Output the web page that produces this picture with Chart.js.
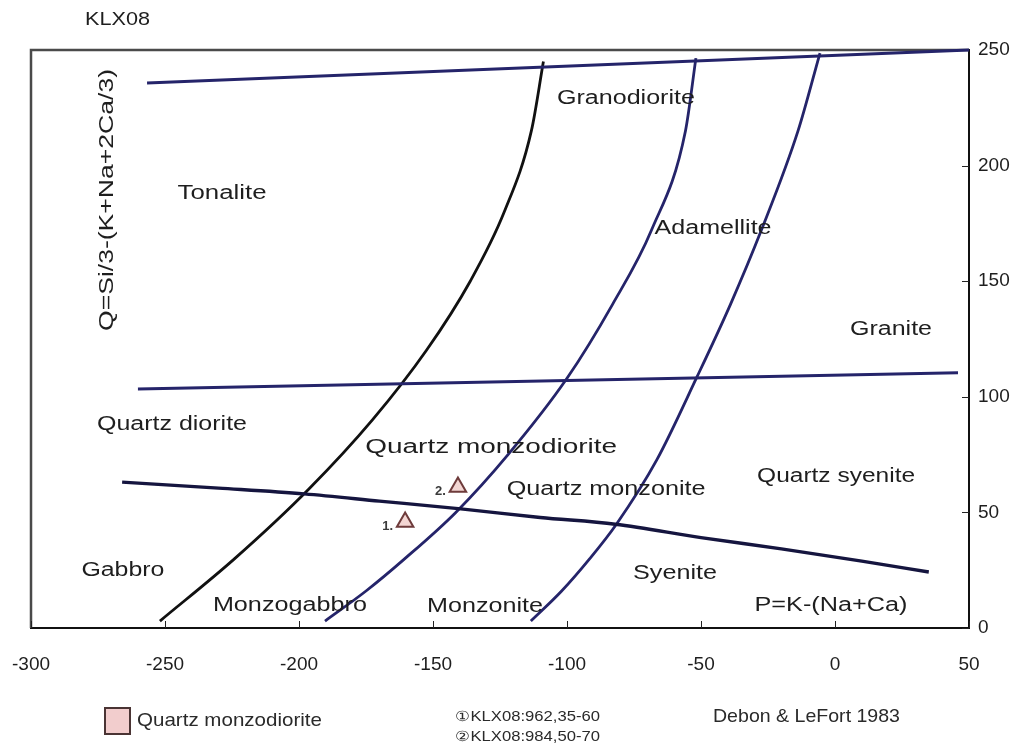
<!DOCTYPE html>
<html>
<head>
<meta charset="utf-8">
<script src="https://cdn.jsdelivr.net/npm/chart.js@4.4.1/dist/chart.umd.min.js"></script>
<style>
  html, body { margin: 0; padding: 0; background: #ffffff; }
  canvas { display: block; }
</style>
</head>
<body>
<canvas id="pq" width="1029" height="749"></canvas>
<script>
// Debon & Le Fort (1983) P-Q classification diagram, borehole KLX08

// axis ticks
const pTicks = [-300, -250, -200, -150, -100, -50, 0, 50];
const qTicks = [0, 50, 100, 150, 200, 250];

// field boundaries as [P, Q] pairs
const upperQBoundary  = [[-256.7, 235.7], [50, 250]];
const middleQBoundary = [[-260.1, 103.4], [45.9, 110.4]];
const lowerQBoundary  = [[-266, 63.1], [-230, 60.5], [-198, 58.0], [-170, 54.9], [-139.6, 51.5], [-110, 47.8],
                         [-82, 44.9], [-50, 39.1], [-20, 34.2], [10, 28.9], [35, 24.2]];
const tonaliteBoundary = [[-251.9, 3], [-224.0, 30], [-196.4, 60], [-172.6, 90], [-152.5, 120], [-136.1, 150],
                          [-123.4, 180], [-113.3, 215], [-108.8, 245]];
const granodioriteBoundary = [[-190.3, 3], [-175.0, 16], [-160.5, 30], [-141.5, 50], [-122.0, 75], [-100.0, 108],
                              [-83.0, 140], [-68.5, 172], [-55.8, 215], [-51.9, 246.5]];
const adamelliteBoundary = [[-113.5, 3], [-102.0, 16], [-91.5, 30], [-81.5, 45], [-66.5, 72.7], [-51.5, 108.6],
                            [-39.0, 140], [-27.5, 172], [-13.8, 215], [-5.6, 248.7]];

// KLX08 samples
const sampleTags = ['1.', '2.'];
const sampleP = [-160.4, -140.7];
const sampleQ = [45.8, 61.0];
const sampleNotes = ['\u2460KLX08:962,35-60', '\u2461KLX08:984,50-70'];

// rock field names
const fieldNames = ['Granodiorite', 'Tonalite', 'Adamellite', 'Granite', 'Quartz diorite', 'Quartz monzodiorite',
                    'Quartz syenite', 'Quartz monzonite', 'Gabbro', 'Syenite', 'Monzogabbro', 'Monzonite', 'P=K-(Na+Ca)'];

// where each field name sits (P, Q) and how wide it is set
const fieldPlacement = [
  { p: -78.0, q: 229.2, w: 138 }, { p: -228.7, q: 188.1, w: 89 }, { p: -45.5, q: 173.0, w: 117 },
  { p: 20.9, q: 128.9, w: 82 }, { p: -247.4, q: 88.2, w: 150 }, { p: -128.3, q: 78.2, w: 252 },
  { p: 0.4, q: 65.7, w: 158 }, { p: -85.4, q: 59.7, w: 199 }, { p: -265.7, q: 24.7, w: 83 },
  { p: -59.7, q: 23.4, w: 84 }, { p: -203.4, q: 9.9, w: 154 }, { p: -130.6, q: 9.5, w: 116 },
  { p: -1.5, q: 9.9, w: 153 }
];

const NAVY = '#25246a';
const INK = '#1e1e1e';
const FONT = "'Liberation Sans', Arial, sans-serif";

const toXY = pairs => pairs.map(([x, y]) => ({ x, y }));

function lineSet(label, pairs, color, width, smooth) {
  return {
    label, data: toXY(pairs), showLine: true, borderColor: color, borderWidth: width,
    pointRadius: 0, pointHoverRadius: 0, fill: false, clip: false,
    tension: smooth ? 0.4 : 0, cubicInterpolationMode: smooth ? 'monotone' : 'default'
  };
}

function drawStretched(ctx, text, x, y, font, width, align) {
  ctx.save();
  ctx.font = font;
  const w = ctx.measureText(text).width;
  const sx = width ? width / w : 1;
  ctx.translate(x, y);
  ctx.scale(sx, 1);
  ctx.textAlign = align || 'center';
  ctx.textBaseline = 'middle';
  ctx.fillText(text, 0, 0);
  ctx.restore();
}

const decorations = {
  id: 'pqDecorations',
  beforeDatasetsDraw(chart) {
    const { ctx, chartArea: a, scales: { x, y } } = chart;
    ctx.save();
    // grey frame on top and left
    ctx.strokeStyle = '#4a4a4a';
    ctx.lineWidth = 2.5;
    ctx.beginPath();
    ctx.moveTo(a.left, a.bottom);
    ctx.lineTo(a.left, a.top);
    ctx.lineTo(a.right, a.top);
    ctx.stroke();
    // short inward tick marks
    ctx.strokeStyle = '#222';
    ctx.lineWidth = 1;
    pTicks.forEach(v => {
      const px = Math.round(x.getPixelForValue(v)) + 0.5;
      ctx.beginPath(); ctx.moveTo(px, a.bottom); ctx.lineTo(px, a.bottom - 7); ctx.stroke();
    });
    qTicks.forEach(v => {
      const py = Math.round(y.getPixelForValue(v)) + 0.5;
      ctx.beginPath(); ctx.moveTo(a.right, py); ctx.lineTo(a.right - 7, py); ctx.stroke();
    });
    ctx.restore();
  },
  afterDraw(chart) {
    const { ctx, scales: { x, y } } = chart;
    ctx.save();
    ctx.fillStyle = INK;
    // field names
    fieldNames.forEach((name, i) => {
      const f = fieldPlacement[i];
      drawStretched(ctx, name, x.getPixelForValue(f.p), y.getPixelForValue(f.q), '20px ' + FONT, f.w);
    });
    // sample numbers
    ctx.fillStyle = '#3a3a3a';
    sampleTags.forEach((t, i) => {
      drawStretched(ctx, t, x.getPixelForValue(sampleP[i]) - 12, y.getPixelForValue(sampleQ[i]) + 4,
        'bold 13px ' + FONT, null, 'right');
    });
    // rotated Q axis title
    ctx.fillStyle = INK;
    ctx.save();
    ctx.translate(107, 200);
    ctx.rotate(-Math.PI / 2);
    drawStretched(ctx, 'Q=Si/3-(K+Na+2Ca/3)', 0, 0, '21px ' + FONT, 262);
    ctx.restore();
    // heading
    drawStretched(ctx, 'KLX08', 85, 20, '19px ' + FONT, 65, 'left');
    // key box for the samples
    const ds = chart.data.datasets[chart.data.datasets.length - 1];
    ctx.fillStyle = '#f2cdcd';
    ctx.fillRect(105, 708, 25, 26);
    ctx.strokeStyle = '#4a3434';
    ctx.lineWidth = 2;
    ctx.strokeRect(105, 708, 25, 26);
    ctx.fillStyle = '#2a2a2a';
    drawStretched(ctx, ds.label, 137, 721, '19px ' + FONT, 185, 'left');
    drawStretched(ctx, sampleNotes[0], 455, 717, '14px ' + FONT, 145, 'left');
    drawStretched(ctx, sampleNotes[1], 455, 737, '14px ' + FONT, 145, 'left');
    drawStretched(ctx, 'Debon & LeFort 1983', 713, 717, '19px ' + FONT, 187, 'left');
    ctx.restore();
  }
};

new Chart(document.getElementById('pq'), {
  type: 'scatter',
  data: {
    datasets: [
      lineSet('upper Q', upperQBoundary, NAVY, 3, false),
      lineSet('middle Q', middleQBoundary, NAVY, 3, false),
      lineSet('lower Q', lowerQBoundary, '#15153f', 3.4, true),
      lineSet('tonalite', tonaliteBoundary, '#111111', 2.8, true),
      lineSet('granodiorite', granodioriteBoundary, NAVY, 2.8, true),
      lineSet('adamellite', adamelliteBoundary, NAVY, 2.8, true),
      {
        label: 'Quartz monzodiorite',
        data: sampleP.map((p, i) => ({ x: p, y: sampleQ[i] })),
        pointStyle: 'triangle',
        pointRadius: 9.5,
        pointHoverRadius: 9.5,
        backgroundColor: '#f3d6d3',
        borderColor: '#6e3b3b',
        borderWidth: 2,
        showLine: false,
        clip: false
      }
    ]
  },
  options: {
    responsive: false,
    animation: false,
    devicePixelRatio: 1,
    layout: { padding: { left: 31, top: 50, right: 0, bottom: 0 } },
    plugins: { legend: { display: false }, tooltip: { enabled: false }, title: { display: false } },
    scales: {
      x: {
        type: 'linear', min: -300, max: 50,
        afterFit: s => { s.height = 121; s.paddingLeft = 0; s.paddingRight = 0; },
        afterBuildTicks: s => { s.ticks = pTicks.map(v => ({ value: v })); },
        ticks: { color: INK, padding: 25, font: { family: FONT, size: 19 } },
        grid: { display: true, drawOnChartArea: false, drawTicks: false },
        border: { display: true, color: '#111', width: 2 }
      },
      y: {
        type: 'linear', position: 'right', min: 0, max: 250,
        afterFit: s => { s.width = 60; s.paddingTop = 0; s.paddingBottom = 0; },
        afterBuildTicks: s => { s.ticks = qTicks.map(v => ({ value: v })); },
        ticks: { color: INK, padding: 9, font: { family: FONT, size: 19 } },
        grid: { display: true, drawOnChartArea: false, drawTicks: false },
        border: { display: true, color: '#111', width: 2 }
      }
    }
  },
  plugins: [decorations]
});
</script>
</body>
</html>
